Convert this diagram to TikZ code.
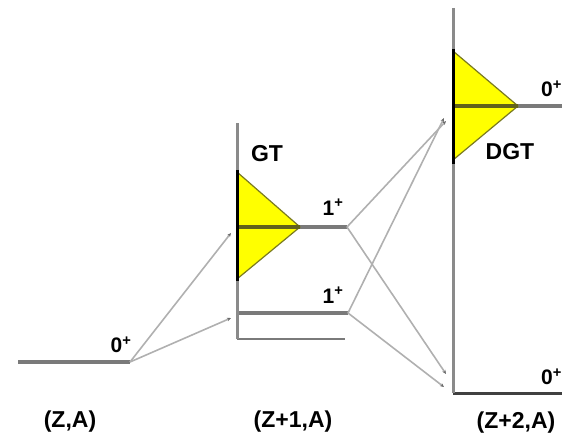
\documentclass[tikz,border=0pt]{standalone}
\usepackage{fontspec}
\setmainfont{Liberation Sans}
\usetikzlibrary{arrows.meta}
\definecolor{axisgray}{HTML}{8A8A8A}
\definecolor{levelgray}{HTML}{7A7A7A}
\definecolor{linkgray}{HTML}{B0B0B0}
\definecolor{tipgray}{HTML}{6A6A6A}
\definecolor{myolive}{HTML}{7A7A20}
\definecolor{peak}{HTML}{FFFF00}
\tikzset{
  axisline/.style={draw=axisgray, line width=3pt},
  levelline/.style={draw=levelgray, line width=4.5pt},
  baseln/.style={draw=#1, line width=2.5pt},
  link/.style={draw=linkgray, line width=1.6pt, -{Stealth[length=4pt,width=3.5pt,color=tipgray]}},
  gauss/.style={fill=peak, draw=myolive, line width=1.2pt, line join=round},
  lbl/.style={font=\fontsize{23}{25}\selectfont\bfseries, inner sep=0pt, text=black},
  lvl/.style={font=\fontsize{21}{23}\selectfont\bfseries, inner sep=0pt, text=black}
}
\begin{document}
\begin{tikzpicture}[x=1pt,y=-1pt]
\useasboundingbox (0,0) rectangle (562,436);
% ground level (Z,A)
\coordinate (g0l) at (18,362);
\coordinate (g0r) at (130,362);
\draw[levelline] (g0l) -- (g0r);
% middle nucleus
\coordinate (maxt) at (237,123);
\coordinate (maxb) at (237,339);
\coordinate (mbr) at (345,339);
\coordinate (m1u) at (237,227);
\coordinate (m1ur) at (347,227);
\coordinate (m1l) at (237,313);
\coordinate (m1lr) at (348,313);
\draw[baseln=levelgray] (maxb) -- (mbr);
\draw[levelline] (m1l) -- (m1lr);
\draw[levelline] (m1u) -- (m1ur);
\draw[axisline] (maxt) -- (maxb);
\draw[gauss] (237,172) -- (300,227) -- (237,279) -- cycle;
\draw[draw=myolive!80!black, line width=4pt] (237,227) -- (300,227);
\draw[black, line width=3pt] (237,170) -- (237,281);
% right nucleus
\coordinate (raxt) at (453,8);
\coordinate (raxb) at (453,393);
\coordinate (rbr) at (562,393);
\coordinate (r0) at (453,106);
\coordinate (r0r) at (562,106);
\draw[levelline] (r0) -- (r0r);
\draw[baseln=black!75, line width=3pt] (raxb) -- (rbr);
\draw[axisline] (raxt) -- (raxb);
\draw[gauss] (453,51) -- (518,106) -- (453,160) -- cycle;
\draw[draw=myolive!80!black, line width=4pt] (453,106) -- (518,106);
\draw[black, line width=3pt] (453,49) -- (453,164);
% connectors
\coordinate (e1) at (231,233);
\coordinate (e2) at (231,318);
\coordinate (e3) at (446,121);
\coordinate (e4) at (444,118);
\coordinate (e5) at (446,374);
\coordinate (e6) at (444,387);
\draw[link] (g0r) -- (e1);
\draw[link] (g0r) -- (e2);
\draw[link] (m1ur) -- (e3);
\draw[link] (m1ur) -- (e5);
\draw[link] (m1lr) -- (e4);
\draw[link] (m1lr) -- (e6);
% labels
\node[lvl] (t0a) at (121,345) {0\textsuperscript{+}};
\node[lvl] (t1a) at (333,207) {1\textsuperscript{+}};
\node[lvl] (t1b) at (333,295) {1\textsuperscript{+}};
\node[lvl, anchor=west] (t0b) at (541,89) {0\textsuperscript{+}};
\node[lvl, anchor=west] (t0c) at (541,377) {0\textsuperscript{+}};
\node[lbl] (tgt) at (267,154) {GT};
\node[lbl] (tdgt) at (510,152) {DGT};
\node[lbl] (nza) at (70,422) {(Z,A)};
\node[lbl] (nz1) at (293,422) {(Z+1,A)};
\node[lbl] (nz2) at (516,423) {(Z+2,A)};
\end{tikzpicture}
\end{document}
